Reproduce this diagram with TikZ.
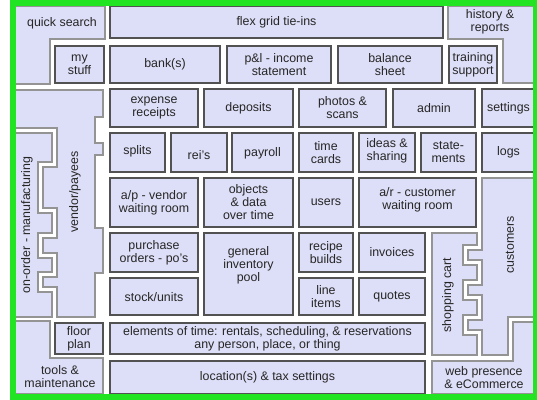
\documentclass[tikz,border=0pt]{standalone}
\usepackage{fontspec}
\setmainfont{Liberation Sans}
\usepackage{tikz}

\definecolor{lav}{RGB}{221,222,247}
\definecolor{frame}{RGB}{34,228,34}

\tikzset{
  cell/.style={draw=black!68, fill=lav, line width=1.1pt},
  piece/.style={draw=black!42, fill=lav, line width=0.9pt},
  lbl/.style={text=black!85, align=center, inner sep=0pt,
    font=\fontsize{9.3}{9.7}\selectfont}
}

\begin{document}
\begin{tikzpicture}[x=0.75pt, y=-0.75pt]
\useasboundingbox (0,0) rectangle (537,400);

% corner pieces
\draw [piece] (14,6)--(105,6)--(105,39)--(50,39)--(50,84)--(14,84)--cycle;
\node [lbl] (qs) at (62,23) {quick search};
\draw [piece] (448,6)--(536,6)--(536,83)--(503,83)--(503,39)--(448,39)--cycle;
\node [lbl] (hist) at (490,22) {history \&\\reports};
\draw [piece] (14,321)--(50,321)--(50,358)--(103,358)--(103,394)--(14,394)--cycle;
\node [lbl] (tools) at (60,377) {tools \&\\maintenance};
\draw [piece] (432,361)--(513,361)--(513,322)--(536,322)--(536,394)--(432,394)--cycle;
\node [lbl] (web) at (484,378) {web presence\\\& eCommerce};

% vendor/payees, with its tabs
\draw [piece] (14,90)--(103,90)--(103,117)--(95,117)--(95,143)--(103,143)--(103,155)
  --(95,155)--(95,228)--(103,228)--(103,273)--(95,273)--(95,317)
  --(57,317)--(57,287)--(43,287)--(43,277)--(57,277)--(57,253)--(43,253)
  --(43,238)--(57,238)--(57,208)--(43,208)--(43,167)--(57,167)--(57,128)--(14,128)--cycle;
\node [lbl, rotate=90] (vend) at (75,192) {vendor/payees};

% on-order
\draw [piece] (14,133)--(52,133)--(52,162)--(38,162)--(38,213)--(52,213)--(52,233)
  --(38,233)--(38,258)--(52,258)--(52,272)--(38,272)--(38,292)--(52,292)--(52,317)--(14,317)--cycle;
\node [lbl, rotate=90] (onord) at (27,225) {on-order - manufacturing};

% customers
\draw [piece] (482,178)--(536,178)--(536,317)--(508,317)--(508,355)--(482,355)
  --(482,330)--(468,330)--(468,320)--(482,320)--(482,295)--(468,295)--(468,285)
  --(482,285)--(482,260)--(468,260)--(468,250)--(482,250)--cycle;
\node [lbl, rotate=90] (cust) at (510,245) {customers};

% shopping cart
\draw [piece] (432,233)--(477,233)--(477,245)--(463,245)--(463,265)--(477,265)--(477,280)
  --(463,280)--(463,300)--(477,300)--(477,315)--(463,315)--(463,335)--(477,335)--(477,355)--(432,355)--cycle;
\node [lbl, rotate=90] (cart) at (448,295) {shopping cart};

% row 1
\draw [cell] (110,6) rectangle (443,38);
\node [lbl] (flex) at (276.5,22) {flex grid tie-ins};

% row 2
\draw [cell] (55,46) rectangle (104,83);
\node [lbl] (my) at (79.5,64.5) {my\\stuff};
\draw [cell] (110,46) rectangle (220,83);
\node [lbl] (bank) at (165,64.5) {bank(s)};
\draw [cell] (227,46) rectangle (331,83);
\node [lbl] (pl) at (279,64.5) {p\&l - income\\statement};
\draw [cell] (338,46) rectangle (442,83);
\node [lbl] (bal) at (390,64.5) {balance\\sheet};
\draw [cell] (449,46) rectangle (497,83);
\node [lbl] (train) at (473,64.5) {training\\support};

% row 3
\draw [cell] (110,89) rectangle (198,127);
\node [lbl] (exp) at (154,108) {expense\\receipts};
\draw [cell] (204,89) rectangle (293,127);
\node [lbl] (dep) at (248.5,108) {deposits};
\draw [cell] (299,89) rectangle (386,127);
\node [lbl] (phot) at (342.5,108) {photos \&\\scans};
\draw [cell] (393,89) rectangle (475,127);
\node [lbl] (adm) at (434,108) {admin};
\draw [cell] (482,89) rectangle (536,127);
\node [lbl] (set) at (508.5,108) {settings};

% row 4
\draw [cell] (110,133) rectangle (165,172);
\node [lbl] (spl) at (137.5,151) {splits};
\draw [cell] (171,133) rectangle (227,172);
\node [lbl] (rei) at (199,155) {rei's};
\draw [cell] (232,133) rectangle (293,172);
\node [lbl] (pay) at (262.5,153) {payroll};
\draw [cell] (299,133) rectangle (353,172);
\node [lbl] (time) at (326,152.5) {time\\cards};
\draw [cell] (359,133) rectangle (415,172);
\node [lbl] (idea) at (387,151) {ideas \&\\sharing};
\draw [cell] (421,133) rectangle (476,172);
\node [lbl] (stm) at (448.5,152.5) {state-\\ments};
\draw [cell] (482,133) rectangle (536,172);
\node [lbl] (logs) at (508.5,152.5) {logs};

% row 5
\draw [cell] (110,178) rectangle (198,227);
\node [lbl] (ap) at (154,202.5) {a/p - vendor\\waiting room};
\draw [cell] (204,178) rectangle (293,227);
\node [lbl] (obj) at (248.5,202.5) {objects\\\& data\\over time};
\draw [cell] (299,178) rectangle (353,227);
\node [lbl] (usr) at (326,202.5) {users};
\draw [cell] (359,178) rectangle (476,227);
\node [lbl] (ar) at (417.5,200) {a/r - customer\\waiting room};

% rows 6 and 7
\draw [cell] (110,233) rectangle (198,272);
\node [lbl] (po) at (154,252.5) {purchase\\orders - po's};
\draw [cell] (204,233) rectangle (293,315);
\node [lbl] (gen) at (248.5,265) {general\\inventory\\pool};
\draw [cell] (299,233) rectangle (353,272);
\node [lbl] (rec) at (326,252.5) {recipe\\builds};
\draw [cell] (359,233) rectangle (425,272);
\node [lbl] (inv) at (392,252.5) {invoices};
\draw [cell] (110,278) rectangle (198,315);
\node [lbl] (stock) at (154,297) {stock/units};
\draw [cell] (299,278) rectangle (353,315);
\node [lbl] (line) at (326,296.5) {line\\items};
\draw [cell] (359,278) rectangle (425,315);
\node [lbl] (quo) at (392,296.5) {quotes};

% bottom rows
\draw [cell] (55,323) rectangle (103,354);
\node [lbl] (floor) at (79,338.5) {floor\\plan};
\draw [cell] (110,323) rectangle (425,354);
\node [lbl] (elem) at (267.5,338.5) {elements of time: rentals, scheduling, \& reservations\\any person, place, or thing};
\draw [cell] (110,361) rectangle (425,394);
\node [lbl] (loc) at (267.5,377.5) {location(s) \& tax settings};

% green frame
\draw [frame, line width=4.5pt] (13,3) rectangle (536,396.5);

\end{tikzpicture}
\end{document}
